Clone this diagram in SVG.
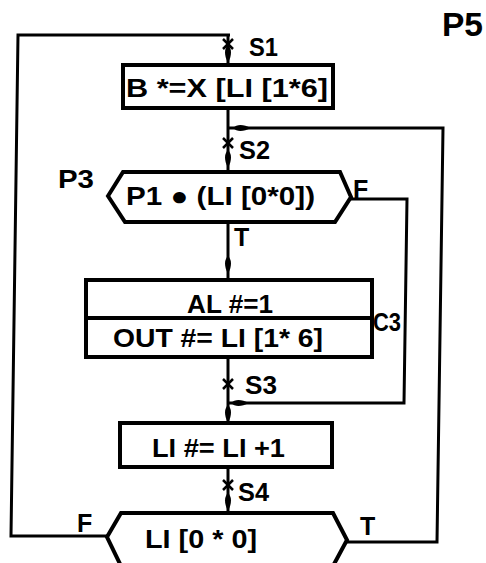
<svg xmlns="http://www.w3.org/2000/svg" width="486" height="563" viewBox="0 0 486 563">
<style>
.box{fill:none;stroke:#000;stroke-width:4;stroke-linejoin:miter}
.ln{fill:none;stroke:#000;stroke-width:3}
.t{font-family:"Liberation Sans","DejaVu Sans",sans-serif;font-weight:bold;fill:#000}
.m{font-size:26px}
.lab{font-size:25px}
.x{stroke:#000;stroke-width:2.5}
</style>
<defs>
<path id="ad" d="M0,0 C4,4 4,10 0,18 C-4,10 -4,4 0,0 Z" fill="#000"/>
<path id="al" d="M0,0 C4,-4 10,-4 18,0 C10,4 4,4 0,0 Z" fill="#000"/>
<g id="cx"><line class="x" x1="-5" y1="-5" x2="5" y2="5"/><line class="x" x1="5" y1="-5" x2="-5" y2="5"/></g>
</defs>
<rect width="486" height="563" fill="#fff"/>
<g id="connectors">
<path class="ln" d="M228,35 L228,65"/>
<path class="ln" d="M228,108 L228,172"/>
<path class="ln" d="M228,222 L228,280"/>
<path class="ln" d="M228,357 L228,423"/>
<path class="ln" d="M228,467 L228,513"/>
<path class="ln" d="M107,536 L11,536 L18,35 L230,35"/>
<path class="ln" d="M347,542 L437,542 L443,128 L228,128"/>
<path class="ln" d="M350,199 L407,199 L404,403 L228,403"/>
<use href="#ad" x="228" y="45"/>
<use href="#cx" x="228" y="44"/>
<use href="#ad" x="228" y="150"/>
<use href="#cx" x="228" y="143"/>
<use href="#ad" x="228" y="256"/>
<use href="#cx" x="228" y="384"/>
<use href="#ad" x="228" y="405"/>
<use href="#cx" x="228" y="485"/>
<use href="#ad" x="228" y="493"/>
<use href="#al" x="233" y="128"/>
<use href="#al" x="231" y="403"/>
</g>
<g id="n_b">
<rect class="box" x="123" y="65" width="210" height="43"/>
<text class="t m" x="126" y="97" textLength="202" lengthAdjust="spacingAndGlyphs">B *=X [LI [1*6]</text>
</g>
<g id="n_p3">
<polygon class="box" points="108,196 123,172 340,172 351,197 335,222 125,222"/>
<text class="t m" x="126" y="205" textLength="189" lengthAdjust="spacingAndGlyphs">P1 ● (LI [0*0])</text>
</g>
<g id="n_c3">
<rect class="box" x="86" y="280" width="286" height="77"/>
<line class="box" x1="86" y1="318" x2="372" y2="318"/>
<text class="t m" x="187" y="313" textLength="86" lengthAdjust="spacingAndGlyphs">AL #=1</text>
<text class="t m" x="113" y="347" textLength="210" lengthAdjust="spacingAndGlyphs">OUT #= LI [1* 6]</text>
</g>
<g id="n_li">
<rect class="box" x="120" y="423" width="212" height="44"/>
<text class="t m" x="152" y="457" textLength="133" lengthAdjust="spacingAndGlyphs">LI #= LI +1</text>
</g>
<g id="n_end">
<polygon class="box" points="107,537 121,513 333,513 347,540 333,566 121,566"/>
<text class="t m" x="145" y="548" textLength="112" lengthAdjust="spacingAndGlyphs">LI [0 * 0]</text>
</g>
<g id="labels">
<text class="t" x="442" y="36" font-size="33" textLength="41" lengthAdjust="spacingAndGlyphs">P5</text>
<text class="t lab" x="249" y="56" textLength="29" lengthAdjust="spacingAndGlyphs">S1</text>
<text class="t lab" x="239" y="159" textLength="31" lengthAdjust="spacingAndGlyphs">S2</text>
<text class="t lab" x="58" y="188" textLength="36" lengthAdjust="spacingAndGlyphs">P3</text>
<text class="t lab" x="353" y="198">F</text>
<text class="t lab" x="234" y="246">T</text>
<text class="t lab" x="373" y="331" textLength="28" lengthAdjust="spacingAndGlyphs">C3</text>
<text class="t lab" x="245" y="394" textLength="32" lengthAdjust="spacingAndGlyphs">S3</text>
<text class="t lab" x="238" y="501" textLength="31" lengthAdjust="spacingAndGlyphs">S4</text>
<text class="t lab" x="77" y="532">F</text>
<text class="t lab" x="360" y="535">T</text>
</g>
</svg>
